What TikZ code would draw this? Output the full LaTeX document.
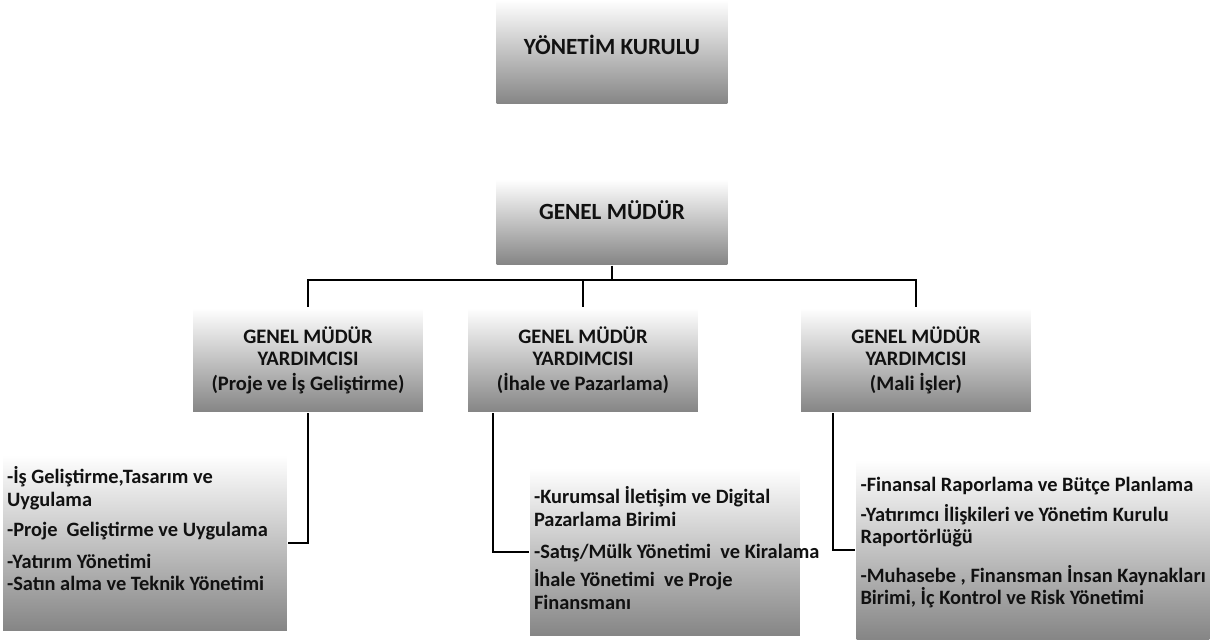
\documentclass[tikz,border=0pt]{standalone}
\usepackage{fontspec}
\setmainfont{Carlito}
\usetikzlibrary{positioning, calc}
\definecolor{shadegray}{HTML}{858585}
\definecolor{inkblack}{HTML}{111111}
\newcommand{\hdfont}{\fontsize{13.2}{15}\selectfont\bfseries}
\newcommand{\vpfont}{\fontsize{11.7}{12.6}\selectfont\bfseries}
\newcommand{\unitfont}{\fontsize{11.6}{12.6}\selectfont\bfseries}

\begin{document}
\begin{tikzpicture}[x=0.02cm, y=-0.02cm, line width=1.2pt,
  headbox/.style={
    top color=white, bottom color=shadegray, text=inkblack,
    minimum width=4.62cm, align=center, inner sep=0pt, font=\hdfont
  },
  vpbox/.style={
    top color=white, bottom color=shadegray, text=inkblack,
    minimum width=4.6cm, minimum height=2.08cm, align=center,
    inner sep=0pt, font=\vpfont
  },
  unitbox/.style={
    top color=white, middle color=white, bottom color=shadegray,
    text=inkblack, align=flush left, inner xsep=0.08cm, inner ysep=0pt,
    font=\unitfont
  }]

% Frame
\useasboundingbox (0,0) rectangle (1214,643);

% --- Top level ---
\node[headbox, minimum height=2.08cm, text depth=0.28cm] (yk) at (612,52)
  {YÖNETİM KURULU};

\node[headbox, minimum height=1.7cm, text depth=0.48cm] (gm) at (612,222)
  {GENEL MÜDÜR};

% --- Deputies ---
\node[vpbox] (vp1) at (308,360)
  {GENEL MÜDÜR\\YARDIMCISI\\[1.5pt](Proje ve İş Geliştirme)};
\node[vpbox] (vp2) at (583,360)
  {GENEL MÜDÜR\\YARDIMCISI\\[1.5pt](İhale ve Pazarlama)};
\node[vpbox] (vp3) at (916,360)
  {GENEL MÜDÜR\\YARDIMCISI\\[1.5pt](Mali İşler)};

% --- Units (empty last line lifts the text a little) ---
\node[unitbox, text width=5.52cm, minimum height=3.52cm] (u1) at (145,543)
  {\mbox{-İş Geliştirme,Tasarım ve}\\
   \mbox{Uygulama}\\[4.5pt]
   \mbox{-Proje\ \ Geliştirme ve Uygulama}\\[6pt]
   \mbox{-Yatırım Yönetimi}\\
   \mbox{-Satın alma ve Teknik Yönetimi}\\[3.4pt]
   \mbox{}};

\node[unitbox, text width=5.24cm, minimum height=3.36cm] (u2) at (665,552)
  {\mbox{-Kurumsal İletişim ve Digital}\\
   \mbox{Pazarlama Birimi}\\[6pt]
   \mbox{-Satış/Mülk Yönetimi\ \ ve Kiralama}\\[3.4pt]
   \mbox{İhale Yönetimi\ \ ve Proje}\\
   \mbox{Finansmanı}\\[-8pt]
   \mbox{}};

\node[unitbox, text width=6.9cm, minimum height=3.6cm] (u3) at (1033,550)
  {\mbox{-Finansal Raporlama ve Bütçe Planlama}\\[4.5pt]
   \mbox{-Yatırımcı İlişkileri ve Yönetim Kurulu}\\
   \mbox{Raportörlüğü}\\[9.5pt]
   \mbox{-Muhasebe , Finansman İnsan Kaynakları}\\
   \mbox{Birimi, İç Kontrol ve Risk Yönetimi}\\[-2.4pt]
   \mbox{}};

% --- Connectors ---
\coordinate (bus) at (612,280);
\draw (gm.south) -- (bus);
\draw (vp1.north) |- (bus) -| (vp3.north);
\draw (vp2.north) -- (vp2.north |- bus);

\draw (vp1.south) |- (u1.east);
\draw ([xshift=-1.8cm]vp2.south) |- (u2.west);
\draw ([xshift=-1.66cm]vp3.south) |- (u3.west);

\end{tikzpicture}
\end{document}
